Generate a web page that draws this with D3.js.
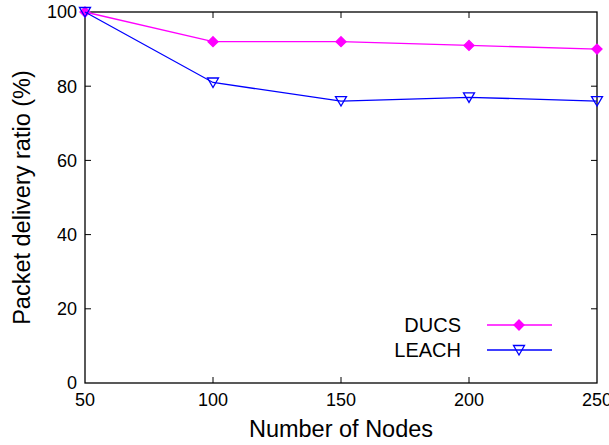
<!DOCTYPE html>
<html>
<head>
<meta charset="utf-8">
<script src="https://cdn.jsdelivr.net/npm/d3@7"></script>
<style>
  body { margin: 0; background: #fff; }
  text { font-family: "Liberation Sans", Arial, Helvetica, sans-serif; fill: #000; }
</style>
</head>
<body>
<div id="main"></div>
<script>
const width = 609;
const height = 445;

// data
const nodes = [50, 100, 150, 200, 250];
const ducs = [100, 92, 92, 91, 90];
const leach = [100, 81, 76, 77, 76];
const xTicks = [50, 100, 150, 200, 250];
const yTicks = [0, 20, 40, 60, 80, 100];

const margin = {top: 12, right: 12, bottom: 62, left: 85};
const iw = width - margin.left - margin.right;
const ih = height - margin.top - margin.bottom;

const svg = d3.select('#main')
    .append('svg')
    .attr('width', width)
    .attr('height', height);

const g = svg.append('g')
    .attr('transform', `translate(${margin.left},${margin.top})`);

const x = d3.scaleLinear().domain([50, 250]).range([0, iw]);
const y = d3.scaleLinear().domain([0, 100]).range([ih, 0]);

// frame + inward ticks on all four sides
g.append('rect')
    .attr('width', iw).attr('height', ih)
    .attr('fill', 'none').attr('stroke', '#000').attr('stroke-width', 1.3);

const tk = 6;
g.append('g').selectAll('line').data(xTicks.slice(1, -1)).enter().append('line')
    .attr('x1', d => x(d)).attr('x2', d => x(d)).attr('y1', ih).attr('y2', ih - tk)
    .attr('stroke', '#000');
g.append('g').selectAll('line').data(xTicks.slice(1, -1)).enter().append('line')
    .attr('x1', d => x(d)).attr('x2', d => x(d)).attr('y1', 0).attr('y2', tk)
    .attr('stroke', '#000');
g.append('g').selectAll('line').data(yTicks.slice(1, -1)).enter().append('line')
    .attr('x1', 0).attr('x2', tk).attr('y1', d => y(d)).attr('y2', d => y(d))
    .attr('stroke', '#000');
g.append('g').selectAll('line').data(yTicks.slice(1, -1)).enter().append('line')
    .attr('x1', iw).attr('x2', iw - tk).attr('y1', d => y(d)).attr('y2', d => y(d))
    .attr('stroke', '#000');

// tick labels
g.append('g').selectAll('text').data(xTicks).enter().append('text')
    .attr('x', d => x(d)).attr('y', ih + 23)
    .attr('text-anchor', 'middle').attr('font-size', 18)
    .text(d => d);
g.append('g').selectAll('text').data(yTicks).enter().append('text')
    .attr('x', -8).attr('y', d => y(d)).attr('dy', '0.36em')
    .attr('text-anchor', 'end').attr('font-size', 18)
    .text(d => d);

// axis titles
svg.append('text')
    .attr('x', margin.left + iw / 2).attr('y', 437)
    .attr('text-anchor', 'middle').attr('font-size', 23.5)
    .text('Number of Nodes');
svg.append('text')
    .attr('transform', `translate(30,${margin.top + ih / 2}) rotate(-90)`)
    .attr('text-anchor', 'middle').attr('font-size', 23.5)
    .text('Packet delivery ratio (%)');

const line = d3.line().x((d, i) => x(nodes[i])).y(d => y(d));

const diamond = 'M0,-5L5,0L0,5L-5,0Z';
const tri = 'M-5.5,-4.5L5.5,-4.5L0,5Z';

const series = [
  {name: 'DUCS', values: ducs, color: '#ff00ff', shape: diamond, fill: '#ff00ff'},
  {name: 'LEACH', values: leach, color: '#0000ff', shape: tri, fill: 'none'}
];

series.forEach(s => {
  g.append('path').datum(s.values)
      .attr('d', line)
      .attr('fill', 'none').attr('stroke', s.color).attr('stroke-width', 1.3);
  g.append('g').selectAll('path').data(s.values).enter().append('path')
      .attr('d', s.shape)
      .attr('transform', (d, i) => `translate(${x(nodes[i])},${y(d)})`)
      .attr('fill', s.fill).attr('stroke', s.color).attr('stroke-width', 1.3);
});

// legend
const legend = svg.append('g');
series.forEach((s, i) => {
  const ly = 325 + i * 25;
  legend.append('text')
      .attr('x', 461).attr('y', ly).attr('dy', '0.36em')
      .attr('text-anchor', 'end').attr('font-size', 20)
      .text(s.name);
  legend.append('line')
      .attr('x1', 487).attr('x2', 552).attr('y1', ly).attr('y2', ly)
      .attr('stroke', s.color).attr('stroke-width', 1.3);
  legend.append('path')
      .attr('d', s.shape)
      .attr('transform', `translate(519,${ly})`)
      .attr('fill', s.fill).attr('stroke', s.color).attr('stroke-width', 1.3);
});
</script>
</body>
</html>
